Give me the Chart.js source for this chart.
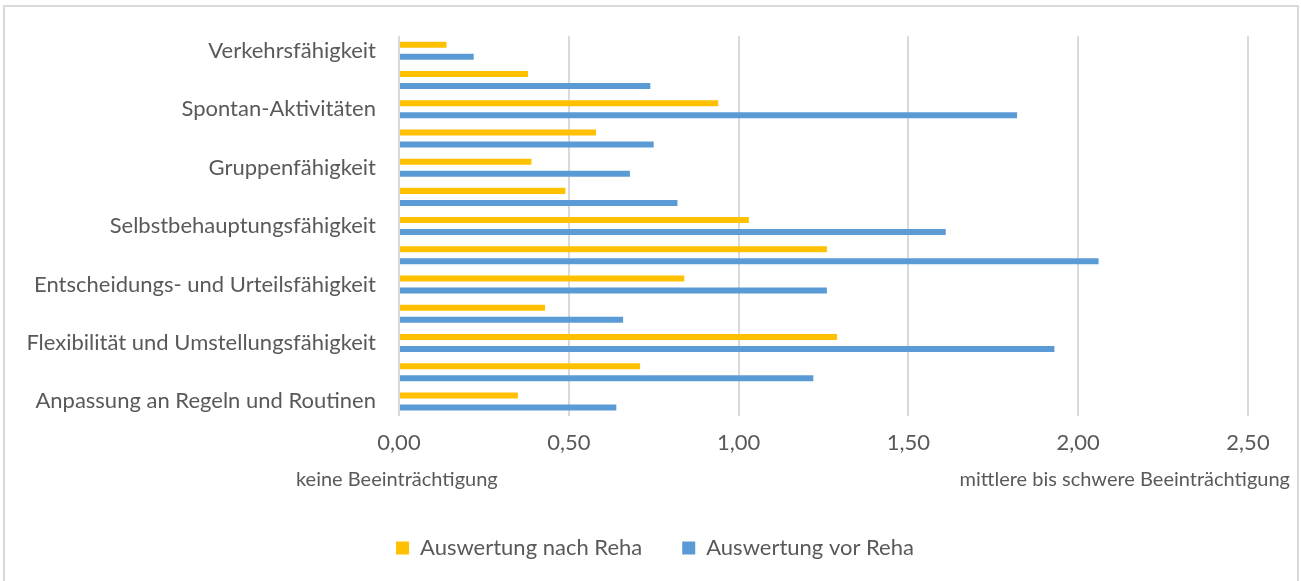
<!DOCTYPE html>
<html>
<head>
<meta charset="utf-8">
<script src="https://cdn.jsdelivr.net/npm/chart.js@4/dist/chart.umd.min.js"></script>
<style>
  html, body { margin: 0; padding: 0; background: #ffffff; }
  #wrap { width: 1301px; height: 581px; position: relative; }
</style>
</head>
<body>
<div id="wrap"><canvas id="c" width="1301" height="581"></canvas></div>
<script>
// Categories, top to bottom (only every other label is shown on the axis)
const categories = [
  "Verkehrsfähigkeit",
  "Selbstversorgung",
  "Spontan-Aktivitäten",
  "Familiäre bzw. intime Beziehungen",
  "Gruppenfähigkeit",
  "Kontaktfähigkeit zu Dritten",
  "Selbstbehauptungsfähigkeit",
  "Durchhaltefähigkeit",
  "Entscheidungs- und Urteilsfähigkeit",
  "Anwendung fachlicher Kompetenzen",
  "Flexibilität und Umstellungsfähigkeit",
  "Planung und Strukturierung von Aufgaben",
  "Anpassung an Regeln und Routinen"
];
const nachReha = [0.14, 0.38, 0.94, 0.58, 0.39, 0.49, 1.03, 1.26, 0.84, 0.43, 1.29, 0.71, 0.35];
const vorReha  = [0.22, 0.74, 1.82, 0.75, 0.68, 0.82, 1.61, 2.06, 1.26, 0.66, 1.93, 1.22, 0.64];
const seriesNames = ["Auswertung nach Reha", "Auswertung vor Reha"];
const xTicks = [0, 0.5, 1.0, 1.5, 2.0, 2.5];
const axisNoteLeft = "keine Beeinträchtigung";
const axisNoteRight = "mittlere bis schwere Beeinträchtigung";

const FONT = "Lato, 'Open Sans', 'DejaVu Sans', sans-serif";
const TEXT = "#595959";

const framePlugin = {
  id: 'frame',
  afterLayout(chart) {
    // center the legend under the whole chart frame, as in the reference
    const lg = chart.legend;
    if (lg) { lg.left += 31; lg.right += 31; }
  },
  beforeDraw(chart) {
    const ctx = chart.ctx;
    ctx.save();
    ctx.fillStyle = '#ffffff';
    ctx.fillRect(0, 0, chart.width, chart.height);
    ctx.strokeStyle = '#d9d9d9';
    ctx.lineWidth = 2;
    ctx.strokeRect(4, 6, 1294, 600);
    ctx.restore();
  },
  afterDraw(chart) {
    const ctx = chart.ctx;
    ctx.save();
    ctx.fillStyle = TEXT;
    ctx.font = "20px " + FONT;
    ctx.textBaseline = 'middle';
    ctx.textAlign = 'left';
    ctx.fillText(axisNoteLeft, 296, 480);
    ctx.textAlign = 'right';
    ctx.fillText(axisNoteRight, 1290, 480);
    ctx.restore();
  }
};

new Chart(document.getElementById('c'), {
  type: 'bar',
  data: {
    labels: categories,
    datasets: [
      { label: seriesNames[0], data: nachReha, backgroundColor: '#FFC000', borderWidth: 0,
        barPercentage: 0.5, categoryPercentage: 0.823 },
      { label: seriesNames[1], data: vorReha, backgroundColor: '#5B9BD5', borderWidth: 0,
        barPercentage: 0.5, categoryPercentage: 0.823 }
    ]
  },
  options: {
    indexAxis: 'y',
    responsive: false,
    animation: false,
    devicePixelRatio: 1,
    layout: { padding: { left: 0, right: 53, top: 34, bottom: 12 } },
    plugins: {
      legend: {
        position: 'bottom',
        labels: {
          color: TEXT,
          font: { family: FONT, size: 22 },
          boxWidth: 13, boxHeight: 13,
          padding: 40
        }
      },
      tooltip: { enabled: false }
    },
    scales: {
      x: {
        min: 0, max: 2.5,
        afterBuildTicks(scale) { scale.ticks = xTicks.map(v => ({ value: v })); },
        afterFit(scale) { scale.height = 81; },
        grid: { color: '#d9d9d9', lineWidth: 2, drawTicks: false },
        border: { display: false },
        ticks: {
          color: TEXT,
          font: { family: FONT, size: 22 },
          padding: 14,
          callback: v => Number(v).toFixed(2).replace('.', ',')
        }
      },
      y: {
        afterFit(scale) { scale.width = 399; },
        grid: { display: false, drawTicks: false },
        border: { display: false },
        ticks: {
          autoSkip: false,
          color: TEXT,
          font: { family: FONT, size: 22 },
          padding: 23,
          callback: function(v, i) { return i % 2 === 0 ? this.getLabelForValue(v) : ''; }
        }
      }
    }
  },
  plugins: [framePlugin]
});
</script>
</body>
</html>
